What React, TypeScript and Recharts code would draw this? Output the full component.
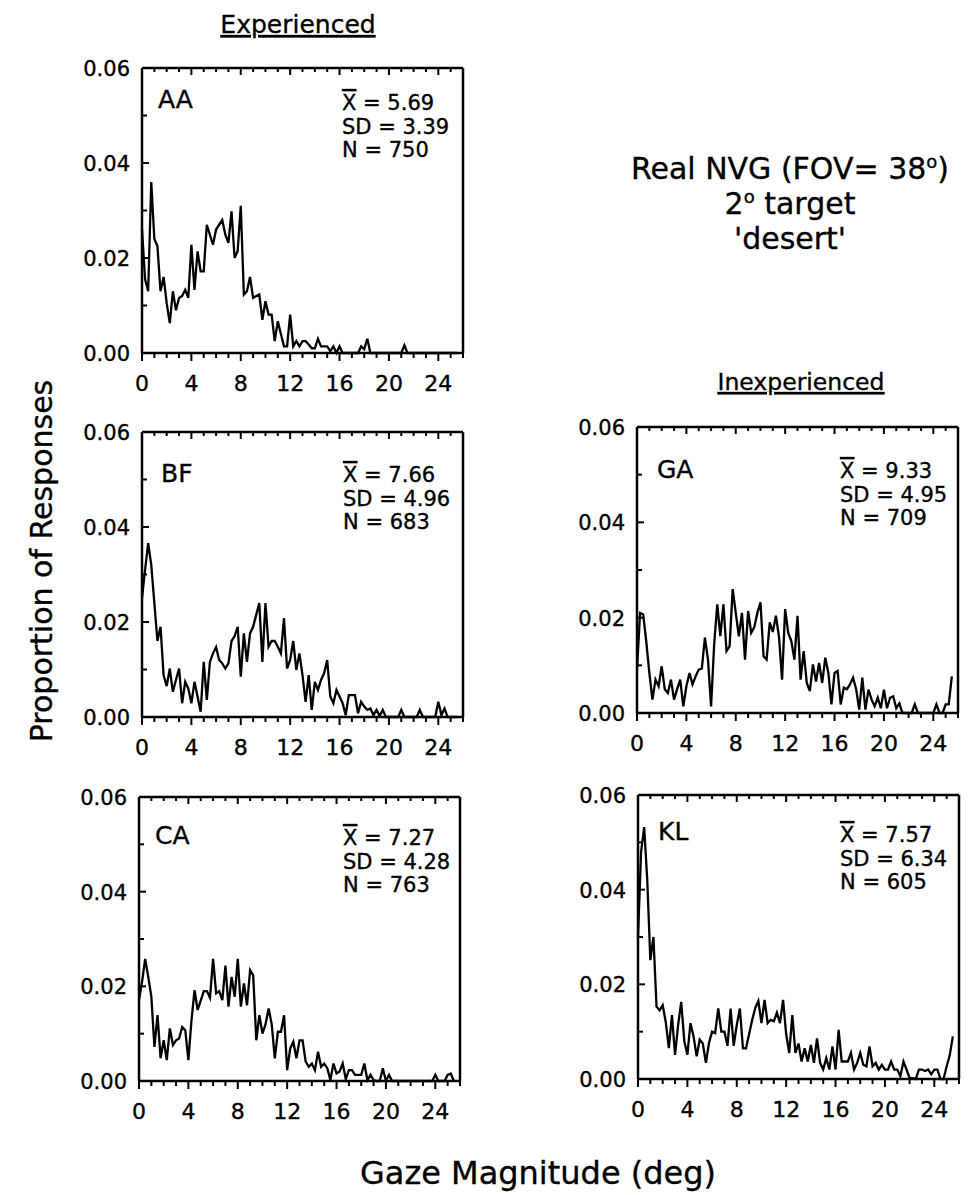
import React from 'react'
import { LineChart, Line, XAxis, YAxis } from 'recharts'

const FONT = '"DejaVu Sans", "Liberation Sans", Arial, sans-serif'
const INK = '#000'
// a hairline outline thickens the glyphs a little, like the scanned original
const TEXT_WEIGHT = { stroke: INK, strokeWidth: 0.35 }

// bin width of the gaze histograms (deg)
const BIN = 0.25
const X_TICKS = [0, 1, 2, 3, 4, 5, 6, 7, 8, 9, 10, 11, 12, 13, 14, 15, 16, 17, 18, 19, 20, 21, 22, 23, 24, 25, 26]
const Y_TICKS = [0, 0.01, 0.02, 0.03, 0.04, 0.05, 0.06]

// proportion of responses per bin (0 .. 25.5 deg)
const AA = [
  0.026, 0.0155, 0.013, 0.036, 0.024, 0.0225, 0.013, 0.016, 0.0105, 0.0063, 0.013, 0.009, 0.0116, 0.012, 0.0133, 0.0116,
  0.0228, 0.0133, 0.0214, 0.0172, 0.0172, 0.027, 0.0249, 0.0228, 0.026, 0.027, 0.028, 0.0249, 0.0232, 0.0298, 0.02, 0.0215,
  0.031, 0.0123, 0.013, 0.016, 0.0116, 0.012, 0.0123, 0.007, 0.0109, 0.0081, 0.0081, 0.0025, 0.0067, 0.004, 0.0014, 0.0014,
  0.0081, 0.0014, 0.0025, 0.0014, 0.0025, 0.0025, 0.0018, 0.001, 0.001, 0.003, 0.0014, 0.0014, 0.0014, 0.0004, 0.0014, 0,
  0.0014, 0, 0, 0, 0, 0, 0, 0.0014, 0.0008, 0.003, 0, 0, 0, 0, 0, 0,
  0, 0, 0, 0, 0, 0.0016, 0, 0, 0, 0, 0, 0, 0, 0, 0, 0,
  0, 0, 0, 0, 0, 0, 0,
]
const BF = [
  0.025, 0.031, 0.0366, 0.032, 0.024, 0.016, 0.019, 0.0088, 0.0065, 0.0102, 0.0053, 0.0078, 0.0102, 0.0029, 0.0074, 0.006,
  0.0029, 0.0074, 0.0043, 0.0011, 0.0116, 0.0036, 0.0116, 0.0134, 0.0147, 0.012, 0.0113, 0.0102, 0.0113, 0.016, 0.017, 0.019,
  0.0085, 0.0176, 0.0116, 0.0176, 0.019, 0.0215, 0.024, 0.0116, 0.024, 0.0148, 0.016, 0.016, 0.0148, 0.0134, 0.0208, 0.0102,
  0.012, 0.016, 0.0099, 0.0134, 0.0088, 0.0032, 0.0088, 0.0015, 0.0074, 0.0057, 0.0078, 0.0092, 0.012, 0.0043, 0.0029, 0.0057,
  0.0043, 0.0029, 0.0004, 0.0046, 0.0046, 0.0046, 0.0008, 0.0032, 0.0022, 0.0015, 0.0018, 0.0004, 0.0015, 0.0002, 0.0015, 0,
  0, 0, 0, 0, 0.0015, 0, 0, 0, 0, 0, 0.0015, 0, 0, 0, 0, 0,
  0.0032, 0.0004, 0.0018, 0, 0, 0, 0,
]
const CA = [
  0.0171, 0.021, 0.0258, 0.022, 0.0178, 0.0072, 0.0139, 0.0048, 0.0086, 0.0044, 0.0111, 0.0076, 0.0086, 0.009, 0.0114, 0.0107,
  0.0044, 0.0128, 0.0192, 0.015, 0.017, 0.019, 0.019, 0.0176, 0.0258, 0.0185, 0.019, 0.0171, 0.0244, 0.0157, 0.022, 0.0178,
  0.0258, 0.0157, 0.0206, 0.016, 0.0234, 0.0223, 0.0086, 0.0139, 0.01, 0.012, 0.0153, 0.012, 0.0048, 0.0104, 0.0104, 0.0139,
  0.0023, 0.0069, 0.0083, 0.0048, 0.0086, 0.0086, 0.0041, 0.003, 0.0037, 0.0023, 0.0062, 0.003, 0.0037, 0.0027, 0.0002, 0.0037,
  0.0016, 0.002, 0.0037, 0.0004, 0.0023, 0.0023, 0.0013, 0.0013, 0.0013, 0.0037, 0.0002, 0.0013, 0.0002, 0, 0, 0.0027,
  0, 0.0013, 0, 0, 0, 0, 0, 0, 0, 0, 0, 0, 0, 0, 0, 0,
  0.0013, 0, 0, 0, 0.0013, 0.0016, 0,
]
const GA = [
  0.0091, 0.021, 0.0207, 0.015, 0.0084, 0.0028, 0.007, 0.0056, 0.0098, 0.005, 0.0042, 0.007, 0.0028, 0.005, 0.007, 0.0014,
  0.0056, 0.0084, 0.006, 0.0077, 0.0091, 0.0093, 0.0158, 0.0112, 0.0014, 0.0144, 0.0228, 0.0161, 0.0228, 0.013, 0.014, 0.026,
  0.021, 0.0161, 0.021, 0.0112, 0.0214, 0.0168, 0.018, 0.021, 0.0232, 0.0119, 0.0112, 0.019, 0.017, 0.0204, 0.016, 0.007,
  0.0218, 0.0168, 0.0151, 0.0112, 0.0204, 0.007, 0.013, 0.0063, 0.0046, 0.0102, 0.0066, 0.0105, 0.0063, 0.0116, 0.0084, 0.0018,
  0.0084, 0.0088, 0.0018, 0.0053, 0.005, 0.006, 0.0074, 0.005, 0.0007, 0.0074, 0.0007, 0.0049, 0.0028, 0.0014, 0.0032, 0.001,
  0.0049, 0.001, 0.0032, 0.0035, 0.001, 0.002, 0, 0, 0, 0, 0.0018, 0, 0, 0, 0, 0,
  0, 0.0018, 0, 0, 0.0018, 0.0018, 0.0077,
]
const KL = [
  0.03, 0.048, 0.0532, 0.042, 0.0251, 0.03, 0.0153, 0.0145, 0.0156, 0.012, 0.0065, 0.0135, 0.0051, 0.0114, 0.0163, 0.008,
  0.0051, 0.0118, 0.009, 0.0048, 0.0083, 0.0075, 0.0034, 0.0076, 0.01, 0.0097, 0.0149, 0.01, 0.01, 0.007, 0.0149, 0.007,
  0.0114, 0.0149, 0.0065, 0.0065, 0.0095, 0.0125, 0.015, 0.0165, 0.0118, 0.0167, 0.0118, 0.0125, 0.0122, 0.014, 0.0118, 0.0167,
  0.0095, 0.0055, 0.0135, 0.0055, 0.0075, 0.0037, 0.0065, 0.0037, 0.0072, 0.0034, 0.0086, 0.0034, 0.002, 0.0044, 0.002, 0.0069,
  0.002, 0.0104, 0.0037, 0.0037, 0.0037, 0.0055, 0.002, 0.0034, 0.0055, 0.003, 0.0027, 0.0069, 0.0027, 0.0034, 0.002, 0.003,
  0.002, 0.002, 0.0037, 0.002, 0.002, 0.0006, 0.0037, 0.002, 0.0002, 0.0002, 0, 0.002, 0.002, 0.0017, 0.002, 0.001,
  0.002, 0.002, 0, 0, 0.0027, 0.005, 0.009,
]

const SUBJECTS = ['AA', 'BF', 'CA', 'GA', 'KL']
const SERIES = [AA, BF, CA, GA, KL]
const MEANS = ['5.69', '7.66', '7.27', '9.33', '7.57']
const SDS = ['3.39', '4.96', '4.28', '4.95', '6.34']
const COUNTS = ['750', '683', '763', '709', '605']

// plot boxes on the page: left, top, right, bottom
const BOXES = [
  { l: 142, t: 68, r: 463, b: 353 },
  { l: 142, t: 432, r: 463, b: 717 },
  { l: 139, t: 797, r: 460, b: 1081 },
  { l: 637, t: 427, r: 958, b: 713 },
  { l: 638, t: 795, r: 959, b: 1079 },
]
// annotation anchors: subject label and stats block
const LABEL_POS = [
  { x: 158, y: 108 }, { x: 161, y: 482 }, { x: 155, y: 844 }, { x: 657, y: 478 }, { x: 658, y: 840 },
]
const STATS_POS = [
  { x: 342, y: 110 }, { x: 343, y: 482 }, { x: 343, y: 845 }, { x: 840, y: 478 }, { x: 840, y: 842 },
]

const PAD_L = 70
const PAD_R = 10
const PAD_T = 10
const PAD_B = 50
const AXIS_LINE = { stroke: INK, strokeWidth: 2.5 }

type TickP = { x: number; y: number; payload: { value: number } }

function BottomTick({ x, y, payload }: TickP) {
  const v = payload.value
  const major = v % 4 === 0
  return (
    <g>
      <line x1={x} x2={x} y1={y} y2={y + (major ? 8 : 5)} stroke={INK} strokeWidth={2} />
      {major && v <= 24 && (
        <text x={x} y={y + 38} textAnchor="middle" fontSize={22} fontFamily={FONT} fill={INK} {...TEXT_WEIGHT}>{v}</text>
      )}
    </g>
  )
}

function TopTick({ x, y, payload }: TickP) {
  const major = payload.value % 4 === 0
  return <line x1={x} x2={x} y1={y} y2={y + (major ? 7 : 4)} stroke={INK} strokeWidth={2} />
}

function LeftTick({ x, y, payload }: TickP) {
  const v = payload.value
  const major = Math.round(v * 100) % 2 === 0
  return (
    <g>
      <line x1={x} x2={x + (major ? 7 : 5)} y1={y} y2={y} stroke={INK} strokeWidth={2} />
      {major && (
        <text x={x - 12} y={y + 8} textAnchor="end" fontSize={21} fontFamily={FONT} fill={INK} {...TEXT_WEIGHT}>{v.toFixed(2)}</text>
      )}
    </g>
  )
}

function RightTick({ x, y, payload }: TickP) {
  const major = Math.round(payload.value * 100) % 2 === 0
  return <line x1={x} x2={x - (major ? 7 : 5)} y1={y} y2={y} stroke={INK} strokeWidth={2} />
}

function Panel({ values, box }: { values: number[]; box: { l: number; t: number; r: number; b: number } }) {
  const data = values.map((p, i) => ({ x: i * BIN, p }))
  const w = box.r - box.l + PAD_L + PAD_R
  const h = box.b - box.t + PAD_T + PAD_B
  return (
    <div style={{ position: 'absolute', left: box.l - PAD_L, top: box.t - PAD_T }}>
      <LineChart width={w} height={h} data={data} margin={{ top: 0, right: 0, bottom: 0, left: 0 }}>
        <XAxis xAxisId="b" dataKey="x" type="number" domain={[0, 26]} ticks={X_TICKS} interval={0}
          orientation="bottom" height={PAD_B} tickSize={0} tickMargin={0} tickLine={false} axisLine={AXIS_LINE}
          tick={(p: TickP) => <BottomTick {...p} />} />
        <XAxis xAxisId="t" dataKey="x" type="number" domain={[0, 26]} ticks={X_TICKS} interval={0}
          orientation="top" height={PAD_T} tickSize={0} tickMargin={0} tickLine={false} axisLine={AXIS_LINE}
          tick={(p: TickP) => <TopTick {...p} />} />
        <YAxis yAxisId="l" type="number" domain={[0, 0.06]} ticks={Y_TICKS} interval={0}
          orientation="left" width={PAD_L} tickSize={0} tickMargin={0} tickLine={false} axisLine={AXIS_LINE}
          tick={(p: TickP) => <LeftTick {...p} />} />
        <YAxis yAxisId="r" type="number" domain={[0, 0.06]} ticks={Y_TICKS} interval={0}
          orientation="right" width={PAD_R} tickSize={0} tickMargin={0} tickLine={false} axisLine={AXIS_LINE}
          tick={(p: TickP) => <RightTick {...p} />} />
        <Line xAxisId="b" yAxisId="l" dataKey="p" type="linear" stroke={INK} strokeWidth={2.3}
          dot={false} activeDot={false} isAnimationActive={false} />
      </LineChart>
    </div>
  )
}

function Deg() {
  return <tspan dy={-11} fontSize={18}>o</tspan>
}

export default function App() {
  return (
    <div style={{ position: 'absolute', left: 0, top: 0, width: 969, height: 1195, background: '#fff', fontFamily: FONT }}>
      {SERIES.map((s, i) => (
        <Panel key={SUBJECTS[i]} values={s} box={BOXES[i]} />
      ))}
      <svg width={969} height={1195} style={{ position: 'absolute', left: 0, top: 0, pointerEvents: 'none' }}
        fontFamily={FONT} fill={INK} {...TEXT_WEIGHT}>
        <text x={298} y={33} textAnchor="middle" fontSize={25} style={{ textDecoration: 'underline' }}>Experienced</text>
        <text x={801} y={390} textAnchor="middle" fontSize={23.5} style={{ textDecoration: 'underline' }}>Inexperienced</text>

        <text x={790} y={179} textAnchor="middle" fontSize={30}>
          Real NVG (FOV= 38<Deg /><tspan dy={11}>)</tspan>
        </text>
        <text x={790} y={214} textAnchor="middle" fontSize={30}>
          2<Deg /><tspan dy={11}> target</tspan>
        </text>
        <text x={790} y={249} textAnchor="middle" fontSize={30}>'desert'</text>

        <text x={538} y={1184} textAnchor="middle" fontSize={32}>Gaze Magnitude (deg)</text>
        <text transform="translate(52,561) rotate(-90)" textAnchor="middle" fontSize={30}>Proportion of Responses</text>

        {SUBJECTS.map((id, i) => (
          <g key={id}>
            <text x={LABEL_POS[i].x} y={LABEL_POS[i].y} fontSize={25}>{id}</text>
            <text x={STATS_POS[i].x} y={STATS_POS[i].y} fontSize={21}>
              <tspan style={{ textDecoration: 'overline' }}>X</tspan> = {MEANS[i]}
            </text>
            <text x={STATS_POS[i].x} y={STATS_POS[i].y + 24} fontSize={21}>SD = {SDS[i]}</text>
            <text x={STATS_POS[i].x} y={STATS_POS[i].y + 47} fontSize={21}>N = {COUNTS[i]}</text>
          </g>
        ))}
      </svg>
    </div>
  )
}
